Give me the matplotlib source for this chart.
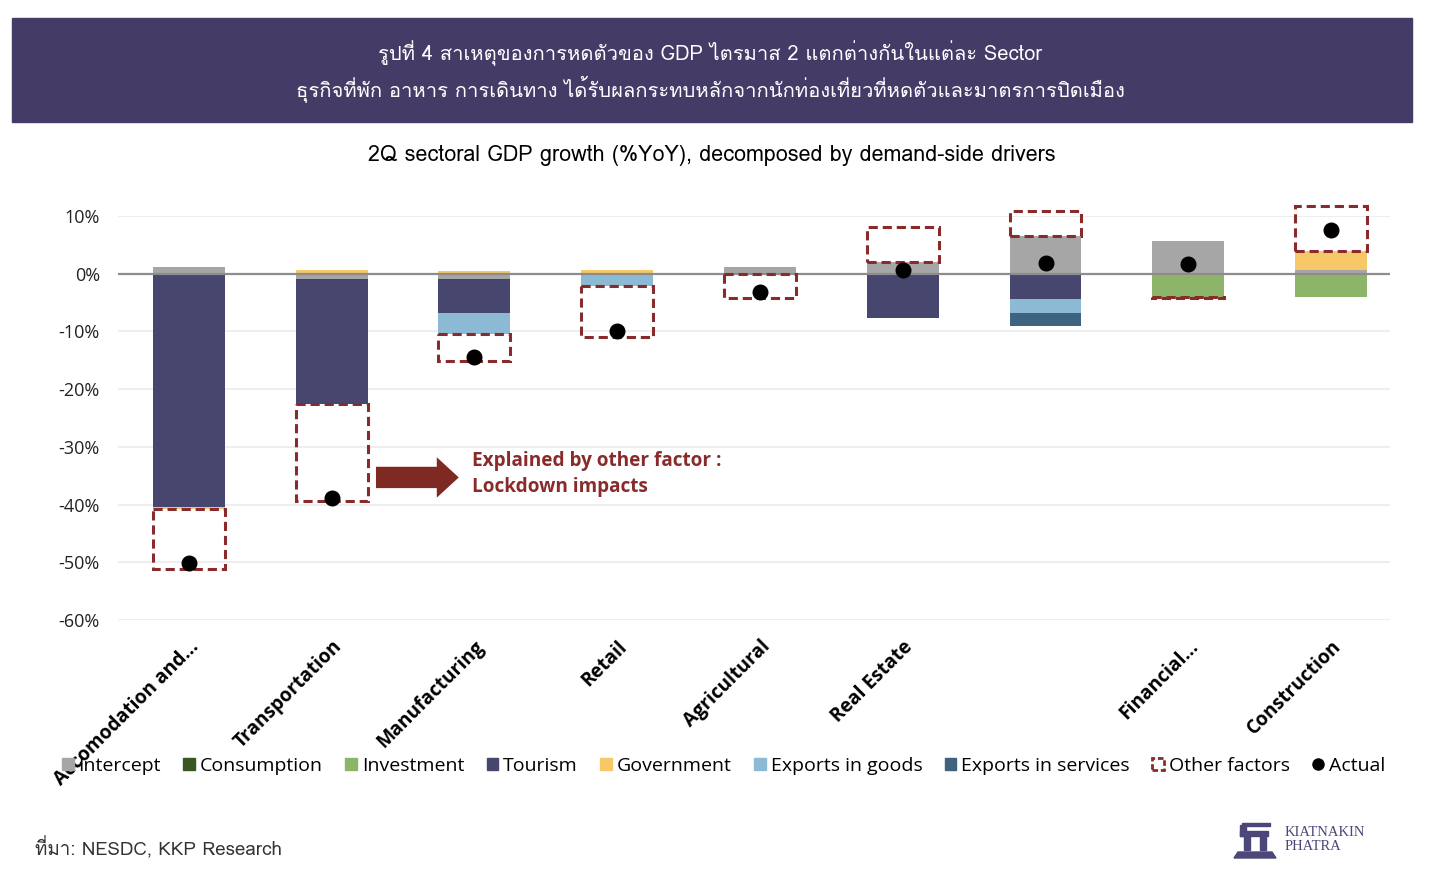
#!/usr/bin/env python3
import numpy as np
import matplotlib
matplotlib.use("Agg")
import matplotlib.pyplot as plt
import matplotlib.patches as mpatches
from matplotlib.lines import Line2D
from matplotlib import font_manager, ft2font

# sectors (one bar in the source has no label)
sectors = ["Accomodation and...", "Transportation", "Manufacturing", "Retail",
           "Agricultural", "Real Estate", "", "Financial...", "Construction"]

# contributions, percentage points
intercept = [1.1, -0.9, -0.9, 0.0, 1.1, 2.0, 6.5, 5.7, 0.6]
consumption = [0.0, -0.2, -0.2, 0.0, -0.1, -0.2, 0.0, 0.0, 0.0]
investment = [0.0, 0.0, 0.0, 0.0, 0.0, 0.0, 0.0, -4.0, -4.1]
tourism = [-40.4, -21.5, -5.7, 0.0, 0.0, -7.4, -4.3, 0.0, 0.0]
government = [-0.3, 0.6, 0.5, 0.6, 0.0, 0.0, 0.0, 0.0, 3.4]
exports_goods = [0.0, 0.0, -3.6, -2.2, 0.0, 0.0, -2.5, 0.0, 0.0]
exports_services = [0.0, 0.0, 0.0, 0.0, 0.0, 0.0, -2.3, 0.0, 0.0]
other_factors = [-10.5, -16.8, -4.7, -8.7, -4.1, 6.1, 4.4, -0.2, 7.7]
actual = [-50.1, -38.8, -14.4, -9.9, -3.1, 0.6, 1.8, 1.7, 7.5]

series = [
    ("Intercept", intercept, "#A6A6A6"),
    ("Consumption", consumption, "#385723"),
    ("Investment", investment, "#8DB56A"),
    ("Tourism", tourism, "#47466E"),
    ("Government", government, "#F6C867"),
    ("Exports in goods", exports_goods, "#8CB9D3"),
    ("Exports in services", exports_services, "#3D6380"),
]

yticks = [10, 0, -10, -20, -30, -40, -50, -60]

HEADER = "#443B67"
DARKRED = "#8A2B2B"


def _thai_font():
    # first installed font that actually has Thai glyphs
    for f in font_manager.fontManager.ttflist:
        try:
            cmap = ft2font.FT2Font(f.fname).get_charmap()
        except Exception:
            continue
        if 0x0E01 in cmap and 0x0E35 in cmap:
            return f.name
    return None


thai = _thai_font()
thai_fam = ([thai] if thai else []) + ["DejaVu Sans"]
plt.rcParams["font.family"] = ["Open Sans", "DejaVu Sans"]

fig = plt.figure(figsize=(14.44, 8.92), dpi=100)

# header band
fig.patches.append(mpatches.Rectangle((12 / 1444, 1 - 122 / 892), 1400 / 1444, 104 / 892,
                                      transform=fig.transFigure, color=HEADER, zorder=0))
fig.text(0.492, 1 - 53 / 892, "รูปที่ 4 สาเหตุของการหดตัวของ GDP ไตรมาส 2 แตกต่างกันในแต่ละ Sector",
         ha="center", va="center", color="white", fontsize=14.5, family=thai_fam)
fig.text(0.492, 1 - 89 / 892,
         "ธุรกิจที่พัก อาหาร การเดินทาง ได้รับผลกระทบหลักจากนักท่องเที่ยวที่หดตัวและมาตรการปิดเมือง",
         ha="center", va="center", color="white", fontsize=14.5, family=thai_fam)
fig.text(0.493, 1 - 155 / 892, "2Q sectoral GDP growth (%YoY), decomposed by demand-side drivers",
         ha="center", va="center", color="black", fontsize=15.5, family=thai_fam)

ax = fig.add_axes([118 / 1444, 1 - 620 / 892, 1272 / 1444, 404 / 892])
x = np.arange(len(sectors))
w = 0.504

pos_base = np.zeros(len(sectors))
neg_base = np.zeros(len(sectors))


def _stack(vals):
    vals = np.asarray(vals, dtype=float)
    bottom = np.where(vals >= 0, pos_base, neg_base)
    pos_base[:] += np.where(vals >= 0, vals, 0)
    neg_base[:] += np.where(vals < 0, vals, 0)
    return vals, bottom


for name, vals, col in series:
    v, b = _stack(vals)
    ax.bar(x, v, w, bottom=b, color=col, linewidth=0, zorder=3, clip_on=False)

v, b = _stack(other_factors)
ax.bar(x, v, w, bottom=b, fill=False, edgecolor=DARKRED, linewidth=2.2,
       linestyle=(0, (3, 1.6)), zorder=4, clip_on=False)

ax.plot(x, actual, "o", color="black", markersize=10.5, linestyle="none", zorder=5, clip_on=False)

ax.set_xlim(-0.497, 8.413)
ax.set_ylim(-60, 10)
ax.set_yticks(yticks)
ax.set_yticklabels([f"{t}%" for t in yticks], fontsize=13, color="#222222")
ax.set_xticks(x)
ax.set_xticklabels(sectors, rotation=45, ha="right", va="top", rotation_mode="anchor",
                   fontsize=13.8, fontweight="bold")
ax.tick_params(axis="both", length=0)
ax.tick_params(axis="y", pad=13)
ax.tick_params(axis="x", pad=12)
for s in ax.spines.values():
    s.set_visible(False)
ax.grid(axis="y", color="#E9E9E9", linewidth=1.1, zorder=0)
ax.axhline(0, color="#8C8C8C", linewidth=1.6, zorder=3.5)

# callout
ax.add_patch(mpatches.FancyArrow(1.31, -35.3, 0.58, 0, width=3.7, head_width=7.0,
                                 head_length=0.154, length_includes_head=True,
                                 color="#7E2A22", linewidth=0, zorder=5))
ax.text(1.98, -32.5, "Explained by other factor :", color=DARKRED, fontsize=13.7,
        fontweight="bold", va="center", ha="left")
ax.text(1.98, -36.9, "Lockdown impacts", color=DARKRED, fontsize=13.7,
        fontweight="bold", va="center", ha="left")

# legend
handles = [mpatches.Patch(color=c, label=n) for n, _, c in series]
handles.append(mpatches.Patch(facecolor="white", edgecolor=DARKRED, linestyle=(0, (2, 1)),
                              linewidth=2, label="Other factors"))
handles.append(Line2D([], [], marker="o", color="black", linestyle="none", markersize=8,
                      label="Actual"))
fig.legend(handles=handles, loc="center", bbox_to_anchor=(0.501, 1 - 766 / 892), ncol=9,
           frameon=False, fontsize=14, handlelength=0.6, handleheight=0.6,
           handletextpad=0.25, columnspacing=1.15)

# footer
fig.text(35 / 1444, 1 - 848 / 892, "ที่มา: NESDC, KKP Research", ha="left", va="center",
         fontsize=13.5, color="#333333", family=thai_fam)
fig.text(1285 / 1444, 1 - 832 / 892, "KIATNAKIN", ha="left", va="center", fontsize=10.5,
         color="#4B4879", family=["Liberation Serif", "DejaVu Serif"])
fig.text(1285 / 1444, 1 - 846 / 892, "PHATRA", ha="left", va="center", fontsize=10.5,
         color="#4B4879", family=["Liberation Serif", "DejaVu Serif"])
# rough logo mark
lx = fig.add_axes([1232 / 1444, 1 - 862 / 892, 46 / 1444, 40 / 892])
lx.set_xlim(0, 46)
lx.set_ylim(0, 40)
lx.axis("off")
lx.add_patch(mpatches.Rectangle((8, 26), 6, 11, color="#4B4879"))
lx.add_patch(mpatches.Rectangle((8, 26), 28, 5, color="#4B4879"))
lx.add_patch(mpatches.Rectangle((12, 12), 6, 16, color="#4B4879"))
lx.add_patch(mpatches.Rectangle((28, 12), 6, 14, color="#4B4879"))
lx.add_patch(mpatches.Polygon([(2, 4), (44, 4), (40, 10), (6, 10)], color="#4B4879"))
lx.add_patch(mpatches.Rectangle((10, 36), 28, 3, color="#4B4879"))

fig.savefig("out.png", dpi=100)
